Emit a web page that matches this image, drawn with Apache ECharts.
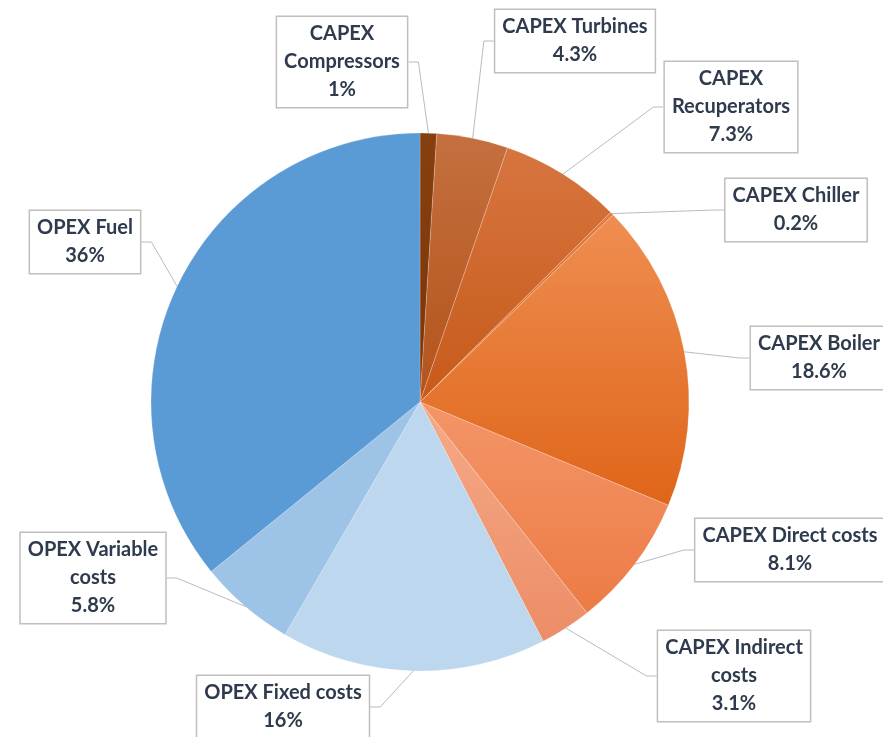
<!DOCTYPE html>
<html>
<head>
<meta charset="utf-8">
<title>Cost breakdown</title>
<script src="https://cdn.jsdelivr.net/npm/echarts@6/dist/echarts.min.js"></script>
<style>
  html, body { margin: 0; padding: 0; background: #ffffff; }
  #chart { width: 883px; height: 737px; }
</style>
</head>
<body>
<div id="chart"></div>
<script>
// Cost shares (%) of the plant, CAPEX items first, then OPEX, clockwise from 12 o'clock
const categories = [
  'CAPEX\nCompressors',
  'CAPEX Turbines',
  'CAPEX\nRecuperators',
  'CAPEX Chiller',
  'CAPEX Boiler',
  'CAPEX Direct costs',
  'CAPEX Indirect\ncosts',
  'OPEX Fixed costs',
  'OPEX Variable\ncosts',
  'OPEX Fuel'
];
const shares = [1, 4.3, 7.3, 0.2, 18.6, 8.1, 3.1, 16, 5.8, 36];
const shareLabels = ['1%', '4.3%', '7.3%', '0.2%', '18.6%', '8.1%', '3.1%', '16%', '5.8%', '36%'];

// Slice fills: [top, bottom] of a vertical shade per slice
const fills = [
  ['#86400f', '#7a350a'],
  ['#c4703f', '#b3531a'],
  ['#d7753f', '#c65a1a'],
  ['#e07a3e', '#d8702f'],
  ['#ef8e51', '#df6519'],
  ['#f49569', '#ec7b44'],
  ['#f5aa88', '#ec8d66'],
  ['#bdd7ee', '#bdd7ee'],
  ['#9dc3e6', '#9dc3e6'],
  ['#5b9bd5', '#5b9bd5']
];

// Centre of each callout box, in pixels
const calloutPos = [
  [342, 62], [575, 41], [731, 107], [796, 210], [819, 358],
  [790, 550], [734, 676], [283, 707], [93, 578], [85, 242]
];

const chart = echarts.init(document.getElementById('chart'), null, { renderer: 'canvas' });

const pieData = categories.map((name, i) => ({
  name: name,
  value: shares[i],
  itemStyle: {
    color: new echarts.graphic.LinearGradient(0, 0, 0, 1, [
      { offset: 0, color: fills[i][0] },
      { offset: 1, color: fills[i][1] }
    ])
  }
}));

chart.setOption({
  backgroundColor: '#ffffff',
  animation: false,
  series: [{
    type: 'pie',
    center: [420, 402],
    radius: 269,
    startAngle: 90,
    clockwise: true,
    avoidLabelOverlap: false,
    data: pieData,
    itemStyle: {
      borderColor: 'rgba(255,255,255,0.35)',
      borderWidth: 0.6
    },
    label: {
      show: true,
      position: 'outside',
      formatter: (p) => p.name + '\n' + shareLabels[p.dataIndex],
      fontFamily: 'Lato',
      fontWeight: 'bold',
      fontSize: 20,
      lineHeight: 28,
      color: '#2f3b4d',
      align: 'center',
      backgroundColor: '#ffffff',
      borderColor: '#bfbfbf',
      borderWidth: 1.5,
      padding: [3, 7, 3, 7]
    },
    labelLine: {
      show: true,
      length: 20,
      length2: 10,
      smooth: false,
      lineStyle: { color: '#b4bcc8', width: 1 }
    },
    labelLayout: (params) => {
      const pos = calloutPos[params.dataIndex];
      return {
        x: pos[0],
        y: pos[1],
        align: 'center',
        verticalAlign: 'middle'
      };
    }
  }]
});
</script>
</body>
</html>
